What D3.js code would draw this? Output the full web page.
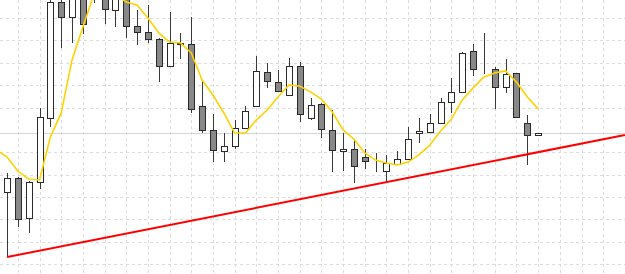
<!DOCTYPE html>
<html>
<head>
<meta charset="utf-8">
<script src="https://cdn.jsdelivr.net/npm/d3@7"></script>
<style>
  html, body { margin: 0; padding: 0; background: #fff; overflow: hidden; }
</style>
</head>
<body>
<svg id="chart" width="625" height="274"></svg>
<script>
// bars 1..50, prices (arbitrary units, grid step = 10)
const opens  = [132.2,138.5,120.6,136.7,165.3,217.2,210.5,218.6,221.7,220.8,
                213.6,219.5,206.5,203.8,200.7,188.6,198.4,198.4,170.7,160.0,
                150.6,152.8,160.9,170.7,185.9,181.4,175.6,188.6,165.3,171.6,
                160.0,150.6,151.5,147.9,141.6,141.6,144.7,147.0,158.6,159.1,
                163.1,172.5,177.0,195.3,187.3,187.3,179.2,185.5,163.1,157.7];
const highs  = [140.7,138.9,137.1,169.8,218.6,219.0,220.4,220.4,229.3,223.5,
                222.6,221.7,213.6,215.9,201.1,212.7,203.4,210.5,182.3,167.1,
                158.6,164.4,170.7,193.1,189.9,186.8,192.2,190.4,174.3,172.0,
                168.9,158.6,155.0,151.5,149.7,148.8,150.6,161.3,165.3,167.1,
                174.3,183.2,194.9,198.4,203.4,188.1,191.7,185.5,166.7,158.6];
const lows   = [103.1,116.6,113.9,133.6,161.3,196.6,198.9,202.9,216.8,207.4,
                206.0,201.1,198.0,198.9,181.4,188.6,191.7,167.6,158.6,145.6,
                145.6,151.5,160.9,170.7,178.8,177.0,175.6,163.5,164.4,156.4,
                141.2,141.6,136.2,142.5,141.2,136.7,144.7,147.0,154.1,158.6,
                163.1,167.6,177.0,184.1,185.0,169.4,176.5,165.8,144.3,157.7];
const closes = [138.5,120.1,136.7,165.8,217.2,210.5,219.0,207.4,227.1,214.1,
                219.9,206.5,203.8,200.7,188.6,198.9,198.7,169.4,160.0,151.0,
                152.8,160.9,168.5,186.4,181.9,177.4,188.6,167.1,171.1,160.4,
                151.0,151.5,143.9,146.1,141.6,145.2,147.0,155.9,159.5,163.1,
                172.5,177.0,194.4,187.3,187.3,179.2,185.0,165.8,157.7,158.6];
// moving average, bars 0..50 (bar 0 sits just left of the window)
const maValues = [151.0,147.9,141.6,138.0,137.6,156.8,167.6,191.3,206.0,220.4,
                  222.6,220.8,217.2,215.9,210.1,203.4,199.3,198.9,194.4,182.3,
                  175.6,167.6,158.6,158.6,164.4,168.9,174.7,180.1,179.6,177.0,
                  173.8,168.0,160.0,155.9,149.7,146.5,145.2,144.3,145.6,148.8,
                  153.2,159.5,164.9,173.4,178.8,183.7,185.5,186.4,181.4,174.7,
                  169.4];
const trendLine = [[1, 103.1], [58, 157.7]];
const gridPrices = d3.range(100, 221, 10);
const gridBars = d3.range(0, 59, 2);

const svg = d3.select("#chart");
const width = +svg.attr("width");
const height = +svg.attr("height");

const x = d3.scaleLinear().domain([0, 58]).range([-3.84, 624.9]);
const y = d3.scaleLinear().domain([95.53, 218.12]).range([height, 0]);
const crisp = v => Math.round(v) + 0.5;

const lastClose = closes[closes.length - 1];

svg.append("rect").attr("width", width).attr("height", height).attr("fill", "#fff");

// grid (the price line takes the place of the grid line right next to it)
const grid = svg.append("g")
    .attr("stroke", "#dcdcdc")
    .attr("stroke-dasharray", "3,3")
    .attr("stroke-width", 1);
grid.selectAll(".hg").data(gridPrices.filter(p => Math.abs(y(p) - y(lastClose)) > 4)).enter().append("line")
    .attr("x1", 0).attr("x2", width)
    .attr("y1", d => crisp(y(d))).attr("y2", d => crisp(y(d)));
grid.selectAll(".vg").data(gridBars).enter().append("line")
    .attr("y1", 0).attr("y2", height)
    .attr("x1", d => crisp(x(d))).attr("x2", d => crisp(x(d)));

// last price line
svg.append("line")
    .attr("x1", 0).attr("x2", width)
    .attr("y1", crisp(y(lastClose))).attr("y2", crisp(y(lastClose)))
    .attr("stroke", "#d6d6d6");

const bars = opens.map((o, i) => ({ i: i + 1, o, h: highs[i], l: lows[i], c: closes[i] }));

// wicks
svg.append("g").selectAll("line").data(bars).enter().append("line")
    .attr("x1", d => crisp(x(d.i))).attr("x2", d => crisp(x(d.i)))
    .attr("y1", d => Math.round(y(d.h))).attr("y2", d => Math.round(y(d.l)))
    .attr("stroke", "#3a3a3a")
    .attr("stroke-width", 1);

// bodies
svg.append("g").selectAll("rect").data(bars).enter().append("rect")
    .attr("x", d => Math.round(x(d.i)) - 3 + 0.5)
    .attr("y", d => Math.round(y(Math.max(d.o, d.c))) + 0.5)
    .attr("width", 6)
    .attr("height", d => Math.max(0, Math.round(y(Math.min(d.o, d.c))) - Math.round(y(Math.max(d.o, d.c)))))
    .attr("fill", d => d.c >= d.o ? "#fff" : "#888")
    .attr("stroke", "#2a2a2a")
    .attr("stroke-width", 1);

// moving average
const maLine = d3.line()
    .x((d, i) => x(i))
    .y(d => y(d));
svg.append("path")
    .datum(maValues)
    .attr("fill", "none")
    .attr("stroke", "#ffd200")
    .attr("stroke-width", 1.6)
    .attr("stroke-linejoin", "round")
    .attr("d", maLine);

// trend line
svg.append("path")
    .datum(trendLine)
    .attr("fill", "none")
    .attr("stroke", "#ff0000")
    .attr("stroke-width", 2)
    .attr("d", d3.line().x(d => x(d[0])).y(d => y(d[1])));
</script>
</body>
</html>
